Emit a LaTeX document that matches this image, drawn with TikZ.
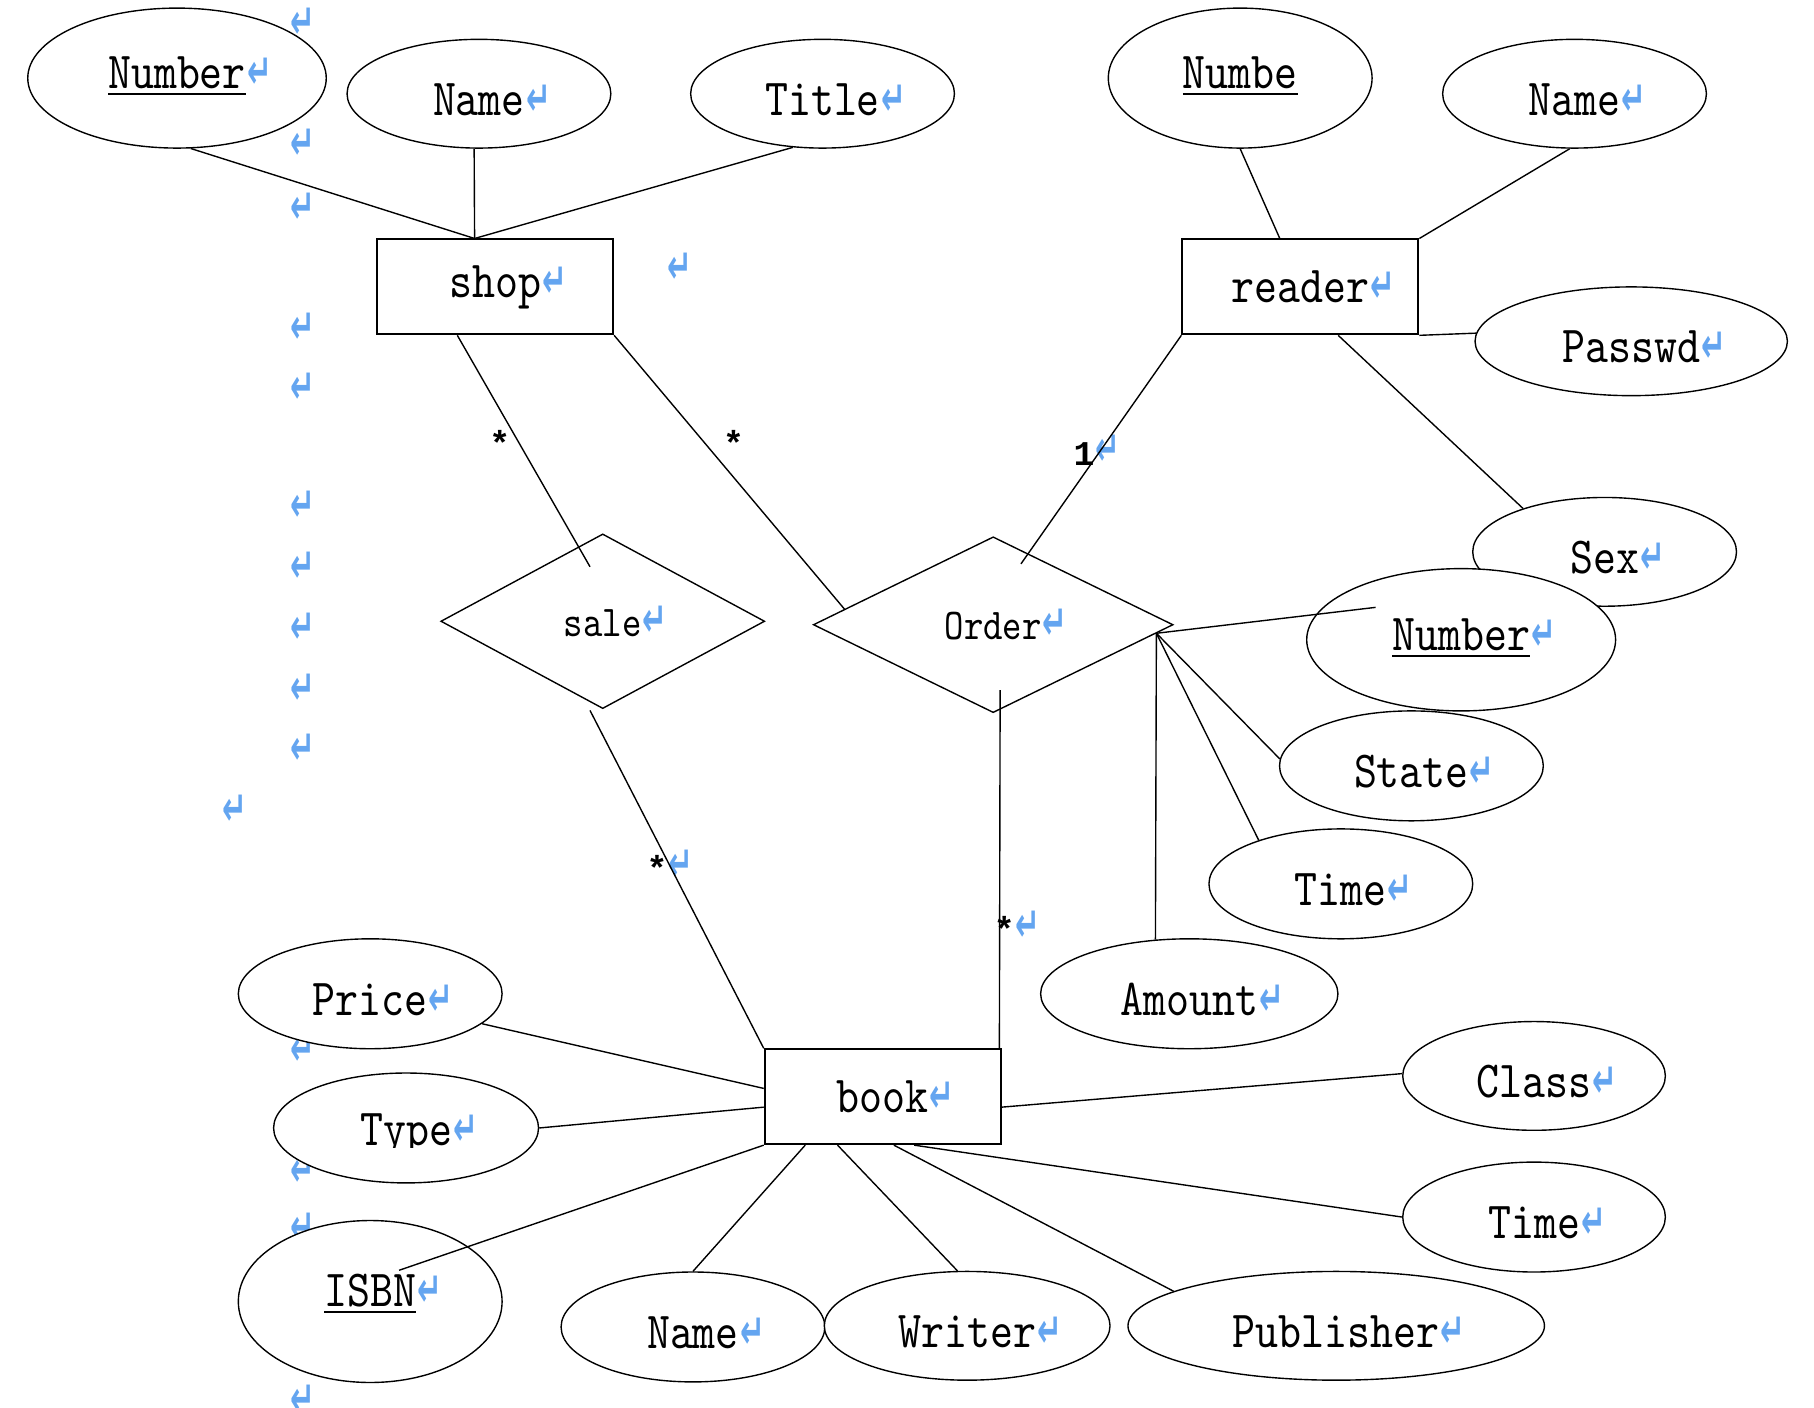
\documentclass[tikz,border=0pt]{standalone}
\usepackage{fontspec}
\usetikzlibrary{shapes.geometric}
\newfontfamily\erfont{lmmono10-regular.otf}[FakeStretch=0.84]
\newfontfamily\arrfont{DejaVu Sans}
\newfontfamily\cardfont{Liberation Mono}
\definecolor{pmblue}{RGB}{100,165,240}
\newcommand\pmglyph{\scalebox{0.85}[1.4]{\arrfont\bfseries\fontsize{30}{30}\selectfont\symbol{"21B5}}}
\newcommand\retmark{\rlap{\kern1pt\color{pmblue}\pmglyph}}
\newcommand\ulword[1]{\setbox0\hbox{#1}\rlap{\rule[-6pt]{\wd0}{1.7pt}}\box0}
\begin{document}
\begin{tikzpicture}[x=1pt,y=-1pt,line width=1.2pt,
  attr/.style={ellipse,draw,fill=white,inner sep=0pt,text height=37pt,text depth=0pt,font=\erfont\fontsize{45}{45}\selectfont},
  ent/.style={rectangle,draw,fill=white,line width=1.7pt,inner sep=0pt,minimum width=204,minimum height=82,font=\erfont\fontsize{45}{45}\selectfont},
  rel/.style={diamond,draw,fill=white,inner sep=0pt,font=\erfont\fontsize{38}{38}\selectfont},
  card/.style={inner sep=0pt,font=\cardfont\bfseries\fontsize{30}{30}\selectfont},
  pmnode/.style={inner sep=0pt,text=pmblue}]
\useasboundingbox[fill=white] (0,0) rectangle (1568,1217);
% free paragraph marks
\foreach \i/\px/\py in {1/262/20,2/262/125,3/262/180,4/262/284,5/262/336,6/588/232,7/262/438,8/262/490,9/262/543,10/262/596,11/262/648,12/203/700,13/262/908,14/262/1012,15/262/1062,16/262/1210}
  \node[pmnode] (pm\i) at (\px,\py) {\pmglyph};
% entities
\node[ent] (shop) at (428,248) {shop\retmark};
\node[ent] (reader) at (1124,248) {reader\retmark};
\node[ent] (book) at (763,948) {book\retmark};
% relationships
\node[rel,minimum width=280,minimum height=151] (sale) at (521,537) {sale\retmark};
\node[rel,minimum width=311,minimum height=152] (order) at (858.5,540) {Order\retmark};
% attributes
\node[attr,minimum width=258,minimum height=121,text height=18pt] (num1) at (153,67.5) {\ulword{Number}\retmark};
\node[attr,minimum width=228,minimum height=94] (name1) at (414,81) {Name\retmark};
\node[attr,minimum width=228,minimum height=94] (title) at (711,81) {Title\retmark};
\node[attr,minimum width=228,minimum height=121,text height=18pt] (numbe) at (1072,67.5) {\ulword{Numbe}};
\node[attr,minimum width=228,minimum height=94] (name2) at (1361,81) {Name\retmark};
\node[attr,minimum width=270,minimum height=94] (passwd) at (1410,295) {Passwd\retmark};
\node[attr,minimum width=228,minimum height=94] (sex) at (1387,477) {Sex\retmark};
\node[attr,minimum width=267,minimum height=123,text height=18pt] (num2) at (1263,553) {\ulword{Number}\retmark};
\node[attr,minimum width=228,minimum height=95] (state) at (1220,662) {State\retmark};
\node[attr,minimum width=228,minimum height=95] (time1) at (1159,764) {Time\retmark};
\node[attr,minimum width=257,minimum height=95] (amount) at (1028,859) {Amount\retmark};
\node[attr,minimum width=228,minimum height=95] (price) at (320,859) {Price\retmark};
\node[attr,minimum width=229,minimum height=95] (type) at (351,975) {};
\begin{scope}
  \clip (230,930) rectangle (470,992);
  \node[inner sep=0pt,anchor=base,font=\erfont\fontsize{45}{45}\selectfont] (typetext) at (351,990.5) {Type\retmark};
\end{scope}
\node[attr,minimum width=228,minimum height=140,text height=8pt] (isbn) at (320,1125) {\ulword{ISBN}\retmark};
\node[attr,minimum width=228,minimum height=95] (name3) at (599,1147) {Name\retmark};
\node[attr,minimum width=247,minimum height=94] (writer) at (836,1146) {Writer\retmark};
\node[attr,minimum width=360,minimum height=94] (publisher) at (1155,1146) {Publisher\retmark};
\node[attr,minimum width=227,minimum height=95] (time2) at (1326,1052) {Time\retmark};
\node[attr,minimum width=227,minimum height=94] (class) at (1326,930) {Class\retmark};
% cardinalities
\node[card] (c1) at (432,383) {*};
\node[card] (c2) at (634,383) {*};
\node[card] (c3) at (937,389) {1\retmark};
\node[card] (c4) at (568,748) {*\retmark};
\node[card] (c5) at (868,801) {*\retmark};
% connectors
\draw (num1.281) -- (shop.113.7);
\draw (name1.265) -- (shop.113.7);
\draw (title.241) -- (shop.113.7);
\draw (numbe.south) -- (reader.113.7);
\draw (name2.265) -- (reader.north east);
\draw (reader.south east) -- (passwd.177);
\draw (reader.308) -- (sex.152);
\draw (shop.232.9) -- ([xshift=-11pt,yshift=-29pt]sale.north);
\draw (shop.south east) -- (order.174);
\draw (reader.south west) -- ([xshift=24pt,yshift=-24pt]order.north);
\draw ([xshift=-11pt,yshift=-1pt]sale.south) -- (book.north west);
\draw ([xshift=6pt,yshift=20pt]order.south) -- ([xshift=-2pt]book.north east);
\draw (order.357) -- ([xshift=-74pt,yshift=28pt]num2.center);
\draw (order.357) -- (state.177);
\draw (order.357) -- (time1.152);
\draw (order.357) -- (amount.122);
\draw (price.345) -- (book.176);
\draw (type.east) -- (book.185);
\draw ([xshift=25pt,yshift=27pt]isbn.center) -- (book.south west);
\draw (name3.north) -- (book.212.6);
\draw (writer.100) -- (book.227.2);
\draw (publisher.168.4) -- (book.283.7);
\draw (time2.west) -- (book.303.1);
\draw (class.179) -- (book.355.5);
\end{tikzpicture}
\end{document}
